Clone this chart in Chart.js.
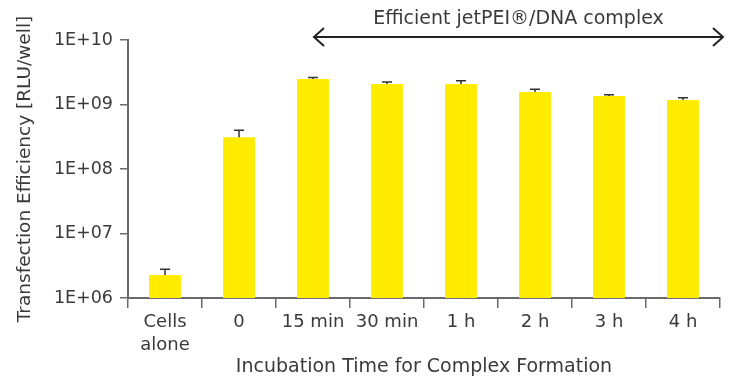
<!DOCTYPE html>
<html>
<head>
<meta charset="utf-8">
<script src="https://cdn.jsdelivr.net/npm/chart.js@4"></script>
<style>
  html, body { margin: 0; padding: 0; background: #fff; }
  #wrap { width: 732px; height: 380px; }
</style>
</head>
<body>
<div id="wrap"><canvas id="chart" width="732" height="380"></canvas></div>
<script>
const categories = [['Cells', 'alone'], '0', '15 min', '30 min', '1 h', '2 h', '3 h', '4 h'];
const efficiency = [2.27e6, 3.1e8, 2.48e9, 2.08e9, 2.08e9, 1.56e9, 1.35e9, 1.17e9];
const errorTops = [2.8e6, 4.0e8, 2.63e9, 2.23e9, 2.34e9, 1.72e9, 1.42e9, 1.27e9];
const yTicks = [1e6, 1e7, 1e8, 1e9, 1e10];
const annotationText = 'Efficient jetPEI®/DNA complex';
const annotationFrom = 2; // starts at the 15 min bar

const textColor = '#3a3a3a';
const axisColor = '#6a6a6a';
const fontFamily = '"DejaVu Sans", sans-serif';

// upward error bars with a small cap
const errorBars = {
    id: 'errorBars',
    afterDatasetsDraw(chart) {
        const ctx = chart.ctx;
        const x = chart.scales.x, y = chart.scales.y;
        ctx.save();
        ctx.strokeStyle = '#333';
        ctx.lineWidth = 1.5;
        errorTops.forEach((top, i) => {
            const px = x.getPixelForValue(i);
            const yTop = y.getPixelForValue(top);
            const yBar = y.getPixelForValue(efficiency[i]);
            ctx.beginPath();
            ctx.moveTo(px, yBar);
            ctx.lineTo(px, yTop);
            ctx.moveTo(px - 5, yTop);
            ctx.lineTo(px + 5, yTop);
            ctx.stroke();
        });
        ctx.restore();
    }
};

// double arrow and its label above the plot
const arrowNote = {
    id: 'arrowNote',
    afterDraw(chart) {
        const ctx = chart.ctx;
        const x0 = chart.scales.x.getPixelForValue(annotationFrom) + 1;
        const x1 = chart.chartArea.right + 3;
        const ya = chart.chartArea.top - 3;
        ctx.save();
        ctx.strokeStyle = '#222';
        ctx.lineWidth = 2;
        ctx.beginPath();
        ctx.moveTo(x0, ya);
        ctx.lineTo(x1, ya);
        ctx.moveTo(x0 + 10, ya - 9);
        ctx.lineTo(x0, ya);
        ctx.lineTo(x0 + 10, ya + 9);
        ctx.moveTo(x1 - 10, ya - 9);
        ctx.lineTo(x1, ya);
        ctx.lineTo(x1 - 10, ya + 9);
        ctx.stroke();
        ctx.fillStyle = textColor;
        ctx.font = '19px ' + fontFamily;
        ctx.textAlign = 'center';
        ctx.textBaseline = 'middle';
        ctx.fillText(annotationText, (x0 + x1) / 2, ya - 18);
        ctx.restore();
    }
};

new Chart(document.getElementById('chart'), {
    type: 'bar',
    data: {
        labels: categories,
        datasets: [{
            data: efficiency,
            backgroundColor: '#ffec00',
            borderWidth: 0,
            barPercentage: 0.86,
            categoryPercentage: 0.5
        }]
    },
    options: {
        responsive: false,
        animation: false,
        layout: { padding: { top: 40, right: 12, left: 0, bottom: 0 } },
        plugins: { legend: { display: false }, tooltip: { enabled: false } },
        scales: {
            x: {
                grid: {
                    display: true,
                    offset: true,
                    drawOnChartArea: false,
                    drawTicks: true,
                    tickLength: 10,
                    color: axisColor,
                    lineWidth: 1.5
                },
                border: { display: true, color: axisColor, width: 2 },
                ticks: {
                    color: textColor,
                    font: { family: fontFamily, size: 18, lineHeight: 1.28 },
                    padding: 3,
                    maxRotation: 0,
                    autoSkip: false
                },
                title: {
                    display: true,
                    text: 'Incubation Time for Complex Formation',
                    color: textColor,
                    font: { family: fontFamily, size: 19 },
                    padding: { top: 4, bottom: 2 }
                },
                afterFit(scale) { scale.height = 82; }
            },
            y: {
                type: 'logarithmic',
                min: 1e6,
                max: 1e10,
                grid: {
                    display: true,
                    drawOnChartArea: false,
                    drawTicks: true,
                    tickLength: 8,
                    color: axisColor,
                    lineWidth: 1.5
                },
                border: { display: true, color: axisColor, width: 2 },
                afterBuildTicks(scale) {
                    scale.ticks = yTicks.map(v => ({ value: v }));
                },
                ticks: {
                    color: textColor,
                    font: { family: fontFamily, size: 17.5 },
                    padding: 7,
                    callback: v => '1E+' + String(Math.round(Math.log10(v))).padStart(2, '0')
                },
                title: {
                    display: true,
                    text: 'Transfection Efficiency [RLU/well]',
                    color: textColor,
                    font: { family: fontFamily, size: 18.5 },
                    padding: { top: 14, bottom: 0 }
                },
                afterFit(scale) { scale.width = 128; }
            }
        }
    },
    plugins: [errorBars, arrowNote]
});
</script>
</body>
</html>
